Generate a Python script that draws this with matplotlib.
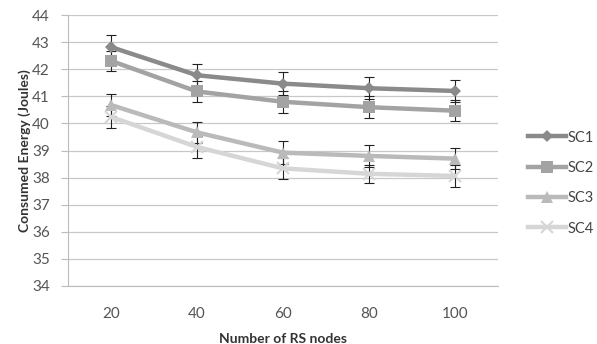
import matplotlib
matplotlib.use("Agg")
import matplotlib.pyplot as plt
import numpy as np

plt.rcParams['font.family'] = ['Lato', 'DejaVu Sans']

categories = ["20", "40", "60", "80", "100"]
sc1 = [42.82, 41.78, 41.47, 41.30, 41.20]
sc2 = [42.31, 41.18, 40.80, 40.60, 40.47]
sc3 = [40.68, 39.67, 38.92, 38.80, 38.70]
sc4 = [40.24, 39.13, 38.34, 38.14, 38.06]
err1 = [0.45, 0.43, 0.42, 0.40, 0.40]
err2 = [0.38, 0.40, 0.40, 0.40, 0.38]
err3 = [0.40, 0.40, 0.42, 0.40, 0.40]
err4 = [0.40, 0.40, 0.40, 0.34, 0.40]
series_names = ["SC1", "SC2", "SC3", "SC4"]

fig = plt.figure(figsize=(5.97, 3.44), dpi=100)
ax = fig.add_axes([0.114, 0.169, 0.72, 0.787])

x = np.arange(len(categories))
styles = [
    (sc1, err1, "#8a8a8a", "D", 6),
    (sc2, err2, "#a3a3a3", "s", 9),
    (sc3, err3, "#bababa", "^", 9),
    (sc4, err4, "#d6d6d6", "x", 8),
]
handles = []
for (vals, err, col, mk, ms), name in zip(styles, series_names):
    ax.errorbar(x, vals, yerr=err, fmt='none', ecolor='#222222', elinewidth=0.8,
                capsize=3.5, capthick=0.8, zorder=3)
    h, = ax.plot(x, vals, color=col, lw=3.2, marker=mk, markersize=ms,
                 markeredgewidth=1.5 if mk == 'x' else 0, markerfacecolor=col,
                 markeredgecolor=col, label=name, zorder=4)
    handles.append(h)

ax.set_xlim(-0.5, 4.5)
ax.set_ylim(34, 44)
ax.set_yticks(np.arange(34, 45, 1))
ax.set_xticks(x)
ax.set_xticklabels(categories)
ax.grid(axis='y', color='#c8c8c8', lw=0.9)
ax.set_axisbelow(True)
for s in ['top', 'right']:
    ax.spines[s].set_visible(False)
ax.spines['left'].set_color('#bcbcbc')
ax.spines['bottom'].set_color('#bcbcbc')
ax.tick_params(axis='y', colors='#bcbcbc', labelcolor='#555555', labelsize=11, length=5, pad=8)
ax.tick_params(axis='x', length=0, labelcolor='#555555', labelsize=11, pad=15)

ax.set_ylabel("Consumed Energy (Joules)", fontsize=10, fontweight='bold', color='#333333', labelpad=1)
ax.set_xlabel("Number of RS nodes", fontsize=10, fontweight='bold', color='#333333', labelpad=9)

leg = fig.legend(handles=handles, labels=series_names, loc='center left',
                 bbox_to_anchor=(0.862, 0.468), frameon=False, fontsize=10.5,
                 handlelength=2.6, handletextpad=0.15, labelspacing=1.12,
                 labelcolor='#444444')

fig.savefig("out.png", dpi=100)
